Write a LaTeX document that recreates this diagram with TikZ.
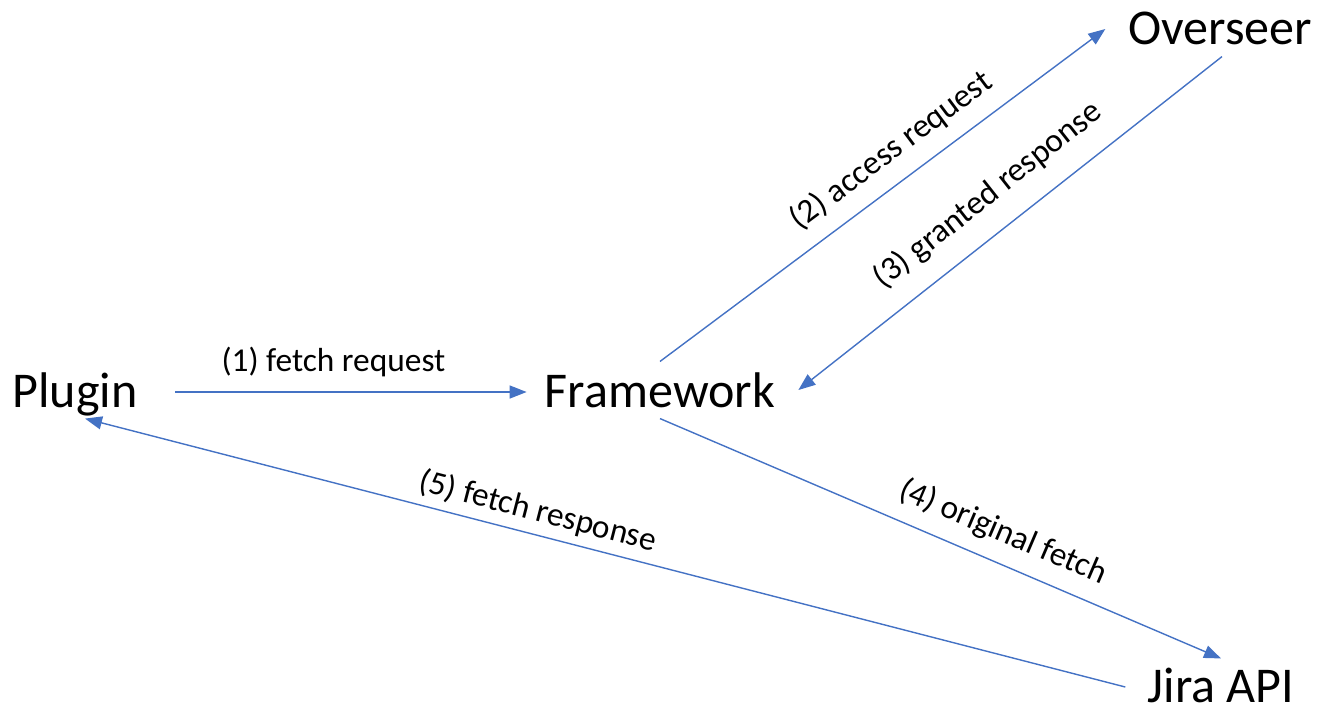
\documentclass[tikz,border=0pt]{standalone}
\usepackage{fontspec}
\setmainfont{Carlito}
\usetikzlibrary{arrows.meta}
\definecolor{callblue}{HTML}{4472C4}

\begin{document}
\begin{tikzpicture}[x=0.02cm,y=-0.02cm]
  \tikzstyle{party}=[font=\fontsize{28.5}{34}\selectfont,inner sep=0pt,
                     text height=0.75em,text depth=0.1em]
  \tikzstyle{call}=[draw=callblue,line width=0.8pt,
                    -{Triangle[length=0.34cm,width=0.26cm]}]
  \tikzstyle{msg}=[font=\fontsize{19}{23}\selectfont,inner sep=0pt,sloped,
                   text height=0.75em,text depth=0.25em]

  \useasboundingbox (0,0) rectangle (1321,708);

  \foreach \name/\x/\y/\text in {plugin/75/402/Plugin, framework/660/402/Framework,
                                 overseer/1220/39/Overseer, jira/1221/697/Jira API}
    \node[party] (\name) at (\x,\y) {\text};

  \draw[call] ([xshift=0.75cm,yshift=0.2cm]plugin.east)
    -- node[msg,pos=0.45,above=0.3cm] {(1) fetch request}
       ([xshift=-0.36cm,yshift=0.2cm]framework.west);
  \draw[call] ([yshift=0.655cm]framework.north)
    -- node[msg,pos=0.56,above=0.32cm] {(2) access request}
       ([xshift=-0.45cm,yshift=0.2cm]overseer.west);
  \draw[call] ([xshift=0.04cm,yshift=-0.195cm]overseer.south)
    -- node[msg,pos=0.5,above=0.43cm] {(3) granted response}
       ([xshift=0.46cm,yshift=0.24cm]framework.east);
  \draw[call] ([yshift=-0.175cm]framework.south)
    -- node[msg,pos=0.59,above=0.32cm] {(4) original fetch}
       ([yshift=0.615cm]jira.north);
  \draw[call] ([xshift=-0.44cm,yshift=0.2cm]jira.west)
    -- node[msg,pos=0.57,above=0.17cm] {(5) fetch response}
       ([xshift=0.2cm,yshift=-0.175cm]plugin.south);

\end{tikzpicture}
\end{document}
